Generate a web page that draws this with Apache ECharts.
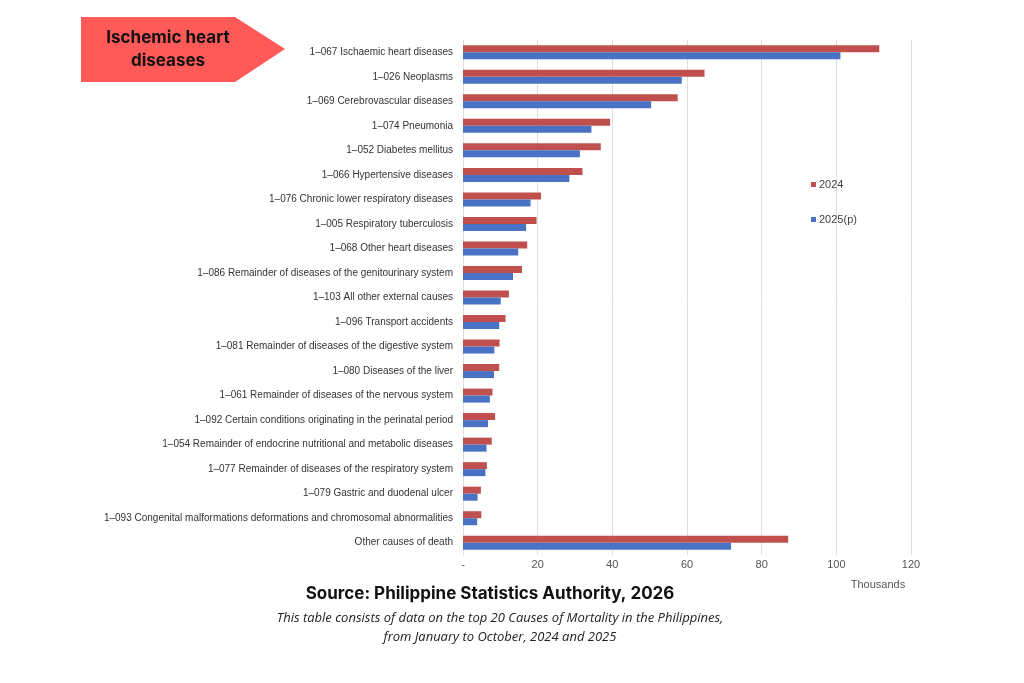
<!DOCTYPE html>
<html>
<head>
<meta charset="utf-8">
<title>Top 20 causes of mortality</title>
<script src="https://cdn.jsdelivr.net/npm/echarts@6/dist/echarts.min.js"></script>
<style>
  html, body { margin: 0; padding: 0; background: #fff; }
  #main { width: 1024px; height: 683px; }
</style>
</head>
<body>
<div id="main"></div>
<script type="text/javascript">

// causes (top to bottom)
var causes = [
  '1\u2013067 Ischaemic heart diseases',
  '1\u2013026 Neoplasms',
  '1\u2013069 Cerebrovascular diseases',
  '1\u2013074 Pneumonia',
  '1\u2013052 Diabetes mellitus',
  '1\u2013066 Hypertensive diseases',
  '1\u2013076 Chronic lower respiratory diseases',
  '1\u2013005 Respiratory tuberculosis',
  '1\u2013068 Other heart diseases',
  '1\u2013086 Remainder of diseases of the genitourinary system',
  '1\u2013103 All other external causes',
  '1\u2013096 Transport accidents',
  '1\u2013081 Remainder of diseases of the digestive system',
  '1\u2013080 Diseases of the liver',
  '1\u2013061 Remainder of diseases of the nervous system',
  '1\u2013092 Certain conditions originating in the perinatal period',
  '1\u2013054 Remainder of endocrine nutritional and metabolic diseases',
  '1\u2013077 Remainder of diseases of the respiratory system',
  '1\u2013079 Gastric and duodenal ulcer',
  '1\u2013093 Congenital malformations deformations and chromosomal abnormalities',
  'Other causes of death'
];

// thousands of deaths
var deaths2024 = [111.5, 64.7, 57.5, 39.4, 36.9, 32.0, 20.9, 19.7, 17.2, 15.8, 12.3,
                  11.4, 9.8, 9.7, 7.9, 8.6, 7.7, 6.4, 4.8, 4.9, 87.1];
var deaths2025 = [101.1, 58.6, 50.4, 34.4, 31.3, 28.5, 18.1, 16.9, 14.8, 13.4, 10.1,
                  9.7, 8.4, 8.3, 7.2, 6.7, 6.3, 6.0, 3.9, 3.8, 71.8];

var seriesNames = ['2024', '2025(p)'];
var xTicks = [0, 20, 40, 60, 80, 100, 120];

var myChart = echarts.init(document.getElementById('main'));

var option = {
  animation: false,
  backgroundColor: '#ffffff',
  textStyle: { fontFamily: 'Liberation Sans, Arial, sans-serif' },
  legend: {
    data: seriesNames,
    orient: 'vertical',
    left: 806,
    top: 174,
    itemGap: 24,
    itemWidth: 5,
    itemHeight: 5,
    icon: 'rect',
    textStyle: { fontSize: 11, color: '#404040', padding: [0, 0, 0, -2] }
  },
  grid: {
    left: 463,
    right: 113,
    top: 40,
    bottom: 128,
    containLabel: false
  },
  xAxis: {
    type: 'value',
    min: xTicks[0],
    max: xTicks[xTicks.length - 1],
    interval: 20,
    axisLine: { show: false },
    axisTick: { show: false },
    splitLine: { lineStyle: { color: '#dedede', width: 1 } },
    axisLabel: {
      fontSize: 11,
      color: '#555',
      margin: 4,
      formatter: function (v) { return v === 0 ? '-' : String(v); }
    }
  },
  yAxis: {
    type: 'category',
    inverse: true,
    data: causes,
    axisLine: { lineStyle: { color: '#dedede' } },
    axisTick: { show: false },
    axisLabel: {
      fontSize: 10,
      color: '#333',
      margin: 10
    }
  },
  series: [
    {
      name: seriesNames[0],
      type: 'bar',
      data: deaths2024,
      barWidth: 7,
      barGap: '0%',
      itemStyle: { color: '#c0504d' }
    },
    {
      name: seriesNames[1],
      type: 'bar',
      data: deaths2025,
      barWidth: 7,
      barGap: '0%',
      itemStyle: { color: '#4a72c4' }
    }
  ],
  graphic: [
    // red arrow callout
    {
      type: 'polygon',
      shape: { points: [[81, 17], [235, 17], [285, 49], [235, 82], [81, 82]] },
      style: { fill: '#ff5a57' }
    },
    {
      type: 'text',
      style: {
        x: 168, y: 49,
        text: 'Ischemic heart\ndiseases',
        fill: '#111',
        font: 'bold 17px Inter, "Open Sans", sans-serif',
        align: 'center',
        verticalAlign: 'middle',
        lineHeight: 23
      }
    },
    {
      type: 'text',
      style: {
        x: 878, y: 585,
        text: 'Thousands',
        fill: '#555',
        align: 'center',
        verticalAlign: 'middle',
        font: '11px "Liberation Sans", Arial, sans-serif'
      }
    },
    {
      type: 'text',
      style: {
        x: 490, y: 594,
        text: 'Source: Philippine Statistics Authority, 2026',
        fill: '#111',
        align: 'center',
        verticalAlign: 'middle',
        font: 'bold 17px Inter, "Open Sans", sans-serif'
      }
    },
    {
      type: 'text',
      style: {
        x: 500, y: 628,
        text: 'This table consists of data on the top 20 Causes of Mortality in the Philippines,\nfrom January to October, 2024 and 2025',
        fill: '#222',
        align: 'center',
        verticalAlign: 'middle',
        lineHeight: 19,
        font: 'italic 13px "Open Sans", sans-serif'
      }
    }
  ]
};

myChart.setOption(option);

</script>
</body>
</html>
